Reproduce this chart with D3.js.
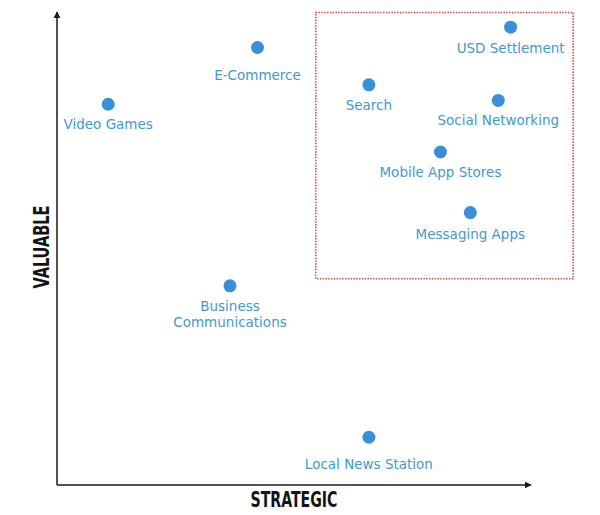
<!DOCTYPE html>
<html>
<head>
<meta charset="utf-8">
<script src="https://cdn.jsdelivr.net/npm/d3@7/dist/d3.min.js"></script>
<style>
  html, body { margin: 0; padding: 0; background: #fff; }
  svg { display: block; }
</style>
</head>
<body>
<svg id="chart" width="600" height="515"></svg>
<script>
// ---- data ----
const categories = ["Video Games", "E-Commerce", "Search", "USD Settlement", "Social Networking",
                    "Mobile App Stores", "Messaging Apps", "Business Communications", "Local News Station"];
const strategic = [10.8, 42.3, 65.8, 95.7, 93.1, 80.9, 87.2, 36.5, 65.8];
const valuable  = [80.5, 92.5, 84.6, 96.8, 81.3, 70.4, 57.6, 42.1, 10.1];
const labelLines = [["Video Games"], ["E-Commerce"], ["Search"], ["USD Settlement"], ["Social Networking"],
                    ["Mobile App Stores"], ["Messaging Apps"], ["Business", "Communications"], ["Local News Station"]];
const labelGap = [20, 28, 20, 21, 20, 20, 21, 20, 27];
const highlightX = [54.6, 108.9];
const highlightY = [43.6, 99.9];
const axisTitles = ["STRATEGIC", "VALUABLE"];

// ---- layout ----
const svg = d3.select("#chart");
const x = d3.scaleLinear().domain([0, 100]).range([57, 531]);
const y = d3.scaleLinear().domain([0, 100]).range([485, 12]);

const defs = svg.append("defs");
defs.append("marker")
  .attr("id", "arrow")
  .attr("viewBox", "0 0 10 10")
  .attr("refX", 9).attr("refY", 5)
  .attr("markerWidth", 7).attr("markerHeight", 7)
  .attr("markerUnits", "userSpaceOnUse")
  .attr("orient", "auto")
  .append("path").attr("d", "M0,0 L10,5 L0,10 Z").attr("fill", "#1a1a1a");

// highlight box
svg.append("rect")
  .attr("x", x(highlightX[0])).attr("y", y(highlightY[1]))
  .attr("width", x(highlightX[1]) - x(highlightX[0]))
  .attr("height", y(highlightY[0]) - y(highlightY[1]))
  .attr("fill", "none")
  .attr("stroke", "#d9453f")
  .attr("stroke-width", 1.6)
  .attr("stroke-dasharray", "1.4,1.4");

// axes
svg.append("line")
  .attr("x1", x(0)).attr("y1", y(0)).attr("x2", x(0)).attr("y2", y(100))
  .attr("stroke", "#1a1a1a").attr("stroke-width", 1.5).attr("marker-end", "url(#arrow)");
svg.append("line")
  .attr("x1", x(0)).attr("y1", y(0)).attr("x2", x(100)).attr("y2", y(0))
  .attr("stroke", "#1a1a1a").attr("stroke-width", 1.5).attr("marker-end", "url(#arrow)");

// axis titles
const titleFont = "'Liberation Sans Narrow', 'DejaVu Sans Condensed', 'Roboto', sans-serif";
svg.append("text")
  .attr("x", 294).attr("y", 507)
  .attr("text-anchor", "middle")
  .style("font-family", titleFont).style("font-weight", "bold").style("font-size", "22px")
  .attr("fill", "#141414")
  .attr("textLength", 87).attr("lengthAdjust", "spacingAndGlyphs")
  .text(axisTitles[0]);
svg.append("text")
  .attr("transform", "translate(49,247) rotate(-90)")
  .attr("text-anchor", "middle")
  .style("font-family", titleFont).style("font-weight", "bold").style("font-size", "22px")
  .attr("fill", "#141414")
  .attr("textLength", 83).attr("lengthAdjust", "spacingAndGlyphs")
  .text(axisTitles[1]);

// points
const data = categories.map((c, i) => ({ c, sx: strategic[i], vy: valuable[i], lines: labelLines[i], gap: labelGap[i] }));

svg.append("g").selectAll("circle").data(data).join("circle")
  .attr("cx", d => x(d.sx)).attr("cy", d => y(d.vy))
  .attr("r", 6.5)
  .attr("fill", "#3a8fd6");

const labels = svg.append("g").selectAll("text").data(data).join("text")
  .attr("x", d => x(d.sx))
  .attr("y", d => y(d.vy) + d.gap + 5)
  .attr("text-anchor", "middle")
  .style("font-family", "'DejaVu Sans', Verdana, sans-serif")
  .style("font-size", "13.5px")
  .attr("fill", "#4597cd");
labels.each(function(d) {
  const t = d3.select(this);
  d.lines.forEach((ln, k) => {
    t.append("tspan").attr("x", x(d.sx)).attr("dy", k === 0 ? 0 : 16).text(ln);
  });
});
</script>
</body>
</html>
